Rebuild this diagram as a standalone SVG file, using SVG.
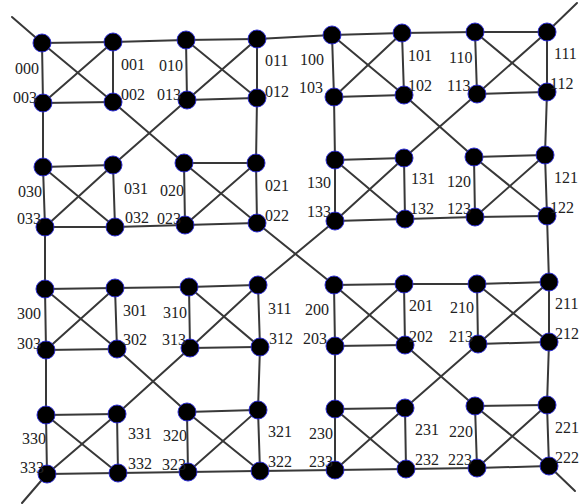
<svg xmlns="http://www.w3.org/2000/svg" width="584" height="504" viewBox="0 0 584 504">
<style>
.e line{stroke:#383838;stroke-width:2;stroke-linecap:round}
.n circle{fill:#000;stroke:#2b2bd0;stroke-width:1}
text{font-family:"Liberation Serif","Times New Roman",serif;font-size:16px;fill:#222}
</style>
<rect width="584" height="504" fill="#fff"/>
<g id="connectors" class="e">
<line x1="42" y1="43" x2="113" y2="42"/><line x1="113" y1="42" x2="113" y2="102"/><line x1="113" y1="102" x2="43" y2="103"/><line x1="43" y1="103" x2="42" y2="43"/><line x1="42" y1="43" x2="113" y2="102"/><line x1="113" y1="42" x2="43" y2="103"/>
<line x1="186" y1="40" x2="257" y2="39"/><line x1="257" y1="39" x2="257" y2="98"/><line x1="257" y1="98" x2="187" y2="100"/><line x1="187" y1="100" x2="186" y2="40"/><line x1="186" y1="40" x2="257" y2="98"/><line x1="257" y1="39" x2="187" y2="100"/>
<line x1="43" y1="167" x2="113" y2="165"/><line x1="113" y1="165" x2="115" y2="227"/><line x1="115" y1="227" x2="45" y2="227"/><line x1="45" y1="227" x2="43" y2="167"/><line x1="43" y1="167" x2="115" y2="227"/><line x1="113" y1="165" x2="45" y2="227"/>
<line x1="184" y1="163" x2="256" y2="163"/><line x1="256" y1="163" x2="257" y2="223"/><line x1="257" y1="223" x2="185" y2="225"/><line x1="185" y1="225" x2="184" y2="163"/><line x1="184" y1="163" x2="257" y2="223"/><line x1="256" y1="163" x2="185" y2="225"/>
<line x1="113" y1="42" x2="186" y2="40"/><line x1="257" y1="98" x2="256" y2="163"/><line x1="43" y1="103" x2="43" y2="167"/><line x1="115" y1="227" x2="185" y2="225"/><line x1="113" y1="102" x2="184" y2="163"/><line x1="187" y1="100" x2="113" y2="165"/>
<line x1="332" y1="35" x2="402" y2="33"/><line x1="402" y1="33" x2="404" y2="95"/><line x1="404" y1="95" x2="334" y2="97"/><line x1="334" y1="97" x2="332" y2="35"/><line x1="332" y1="35" x2="404" y2="95"/><line x1="402" y1="33" x2="334" y2="97"/>
<line x1="475" y1="32" x2="547" y2="32"/><line x1="547" y1="32" x2="547" y2="92"/><line x1="547" y1="92" x2="477" y2="94"/><line x1="477" y1="94" x2="475" y2="32"/><line x1="475" y1="32" x2="547" y2="92"/><line x1="547" y1="32" x2="477" y2="94"/>
<line x1="335" y1="160" x2="404" y2="158"/><line x1="404" y1="158" x2="405" y2="219"/><line x1="405" y1="219" x2="335" y2="221"/><line x1="335" y1="221" x2="335" y2="160"/><line x1="335" y1="160" x2="405" y2="219"/><line x1="404" y1="158" x2="335" y2="221"/>
<line x1="474" y1="157" x2="545" y2="155"/><line x1="545" y1="155" x2="547" y2="216"/><line x1="547" y1="216" x2="475" y2="217"/><line x1="475" y1="217" x2="474" y2="157"/><line x1="474" y1="157" x2="547" y2="216"/><line x1="545" y1="155" x2="475" y2="217"/>
<line x1="402" y1="33" x2="475" y2="32"/><line x1="547" y1="92" x2="545" y2="155"/><line x1="334" y1="97" x2="335" y2="160"/><line x1="405" y1="219" x2="475" y2="217"/><line x1="404" y1="95" x2="474" y2="157"/><line x1="477" y1="94" x2="404" y2="158"/>
<line x1="45" y1="289" x2="115" y2="288"/><line x1="115" y1="288" x2="117" y2="349"/><line x1="117" y1="349" x2="46" y2="350"/><line x1="46" y1="350" x2="45" y2="289"/><line x1="45" y1="289" x2="117" y2="349"/><line x1="115" y1="288" x2="46" y2="350"/>
<line x1="189" y1="287" x2="258" y2="285"/><line x1="258" y1="285" x2="260" y2="347"/><line x1="260" y1="347" x2="190" y2="348"/><line x1="190" y1="348" x2="189" y2="287"/><line x1="189" y1="287" x2="260" y2="347"/><line x1="258" y1="285" x2="190" y2="348"/>
<line x1="46" y1="415" x2="117" y2="414"/><line x1="117" y1="414" x2="118" y2="473"/><line x1="118" y1="473" x2="47" y2="474"/><line x1="47" y1="474" x2="46" y2="415"/><line x1="46" y1="415" x2="118" y2="473"/><line x1="117" y1="414" x2="47" y2="474"/>
<line x1="187" y1="412" x2="258" y2="410"/><line x1="258" y1="410" x2="260" y2="471"/><line x1="260" y1="471" x2="188" y2="472"/><line x1="188" y1="472" x2="187" y2="412"/><line x1="187" y1="412" x2="260" y2="471"/><line x1="258" y1="410" x2="188" y2="472"/>
<line x1="115" y1="288" x2="189" y2="287"/><line x1="260" y1="347" x2="258" y2="410"/><line x1="46" y1="350" x2="46" y2="415"/><line x1="118" y1="473" x2="188" y2="472"/><line x1="117" y1="349" x2="187" y2="412"/><line x1="190" y1="348" x2="117" y2="414"/>
<line x1="334" y1="285" x2="404" y2="284"/><line x1="404" y1="284" x2="405" y2="345"/><line x1="405" y1="345" x2="335" y2="346"/><line x1="335" y1="346" x2="334" y2="285"/><line x1="334" y1="285" x2="405" y2="345"/><line x1="404" y1="284" x2="335" y2="346"/>
<line x1="477" y1="284" x2="549" y2="282"/><line x1="549" y1="282" x2="549" y2="342"/><line x1="549" y1="342" x2="478" y2="344"/><line x1="478" y1="344" x2="477" y2="284"/><line x1="477" y1="284" x2="549" y2="342"/><line x1="549" y1="282" x2="478" y2="344"/>
<line x1="335" y1="409" x2="405" y2="408"/><line x1="405" y1="408" x2="406" y2="469"/><line x1="406" y1="469" x2="335" y2="470"/><line x1="335" y1="470" x2="335" y2="409"/><line x1="335" y1="409" x2="406" y2="469"/><line x1="405" y1="408" x2="335" y2="470"/>
<line x1="475" y1="406" x2="547" y2="405"/><line x1="547" y1="405" x2="549" y2="466"/><line x1="549" y1="466" x2="477" y2="468"/><line x1="477" y1="468" x2="475" y2="406"/><line x1="475" y1="406" x2="549" y2="466"/><line x1="547" y1="405" x2="477" y2="468"/>
<line x1="404" y1="284" x2="477" y2="284"/><line x1="549" y1="342" x2="547" y2="405"/><line x1="335" y1="346" x2="335" y2="409"/><line x1="406" y1="469" x2="477" y2="468"/><line x1="405" y1="345" x2="475" y2="406"/><line x1="478" y1="344" x2="405" y2="408"/>
<line x1="257" y1="39" x2="332" y2="35"/><line x1="547" y1="216" x2="549" y2="282"/><line x1="45" y1="227" x2="45" y2="289"/><line x1="260" y1="471" x2="335" y2="470"/><line x1="257" y1="223" x2="334" y2="285"/><line x1="335" y1="221" x2="258" y2="285"/>
<line x1="42" y1="43" x2="12" y2="17"/><line x1="547" y1="32" x2="577" y2="3"/><line x1="47" y1="474" x2="22" y2="503"/><line x1="549" y1="466" x2="575" y2="491"/>
</g>
<g id="nodes" class="n">
<g id="n000"><circle cx="42" cy="43" r="9"/><text x="15" y="74">000</text></g>
<g id="n001"><circle cx="113" cy="42" r="9"/><text x="121" y="70">001</text></g>
<g id="n002"><circle cx="113" cy="102" r="9"/><text x="121" y="100">002</text></g>
<g id="n003"><circle cx="43" cy="103" r="9"/><text x="13" y="103">003</text></g>
<g id="n010"><circle cx="186" cy="40" r="9"/><text x="159" y="71">010</text></g>
<g id="n011"><circle cx="257" cy="39" r="9"/><text x="265" y="66">011</text></g>
<g id="n012"><circle cx="257" cy="98" r="9"/><text x="265" y="97">012</text></g>
<g id="n013"><circle cx="187" cy="100" r="9"/><text x="157" y="100">013</text></g>
<g id="n030"><circle cx="43" cy="167" r="9"/><text x="18" y="197">030</text></g>
<g id="n031"><circle cx="113" cy="165" r="9"/><text x="124" y="194">031</text></g>
<g id="n032"><circle cx="115" cy="227" r="9"/><text x="125" y="223">032</text></g>
<g id="n033"><circle cx="45" cy="227" r="9"/><text x="17" y="224">033</text></g>
<g id="n020"><circle cx="184" cy="163" r="9"/><text x="160" y="196">020</text></g>
<g id="n021"><circle cx="256" cy="163" r="9"/><text x="265" y="191">021</text></g>
<g id="n022"><circle cx="257" cy="223" r="9"/><text x="265" y="221">022</text></g>
<g id="n023"><circle cx="185" cy="225" r="9"/><text x="157" y="224">023</text></g>
<g id="n100"><circle cx="332" cy="35" r="9"/><text x="300" y="65">100</text></g>
<g id="n101"><circle cx="402" cy="33" r="9"/><text x="408" y="61">101</text></g>
<g id="n102"><circle cx="404" cy="95" r="9"/><text x="408" y="91">102</text></g>
<g id="n103"><circle cx="334" cy="97" r="9"/><text x="299" y="93">103</text></g>
<g id="n110"><circle cx="475" cy="32" r="9"/><text x="449" y="63">110</text></g>
<g id="n111"><circle cx="547" cy="32" r="9"/><text x="554" y="59">111</text></g>
<g id="n112"><circle cx="547" cy="92" r="9"/><text x="550" y="89">112</text></g>
<g id="n113"><circle cx="477" cy="94" r="9"/><text x="447" y="91">113</text></g>
<g id="n130"><circle cx="335" cy="160" r="9"/><text x="307" y="188">130</text></g>
<g id="n131"><circle cx="404" cy="158" r="9"/><text x="411" y="184">131</text></g>
<g id="n132"><circle cx="405" cy="219" r="9"/><text x="410" y="214">132</text></g>
<g id="n133"><circle cx="335" cy="221" r="9"/><text x="307" y="217">133</text></g>
<g id="n120"><circle cx="474" cy="157" r="9"/><text x="447" y="187">120</text></g>
<g id="n121"><circle cx="545" cy="155" r="9"/><text x="554" y="183">121</text></g>
<g id="n122"><circle cx="547" cy="216" r="9"/><text x="550" y="213">122</text></g>
<g id="n123"><circle cx="475" cy="217" r="9"/><text x="447" y="214">123</text></g>
<g id="n300"><circle cx="45" cy="289" r="9"/><text x="17" y="319">300</text></g>
<g id="n301"><circle cx="115" cy="288" r="9"/><text x="123" y="316">301</text></g>
<g id="n302"><circle cx="117" cy="349" r="9"/><text x="123" y="345">302</text></g>
<g id="n303"><circle cx="46" cy="350" r="9"/><text x="17" y="349">303</text></g>
<g id="n310"><circle cx="189" cy="287" r="9"/><text x="163" y="318">310</text></g>
<g id="n311"><circle cx="258" cy="285" r="9"/><text x="268" y="314">311</text></g>
<g id="n312"><circle cx="260" cy="347" r="9"/><text x="269" y="344">312</text></g>
<g id="n313"><circle cx="190" cy="348" r="9"/><text x="162" y="345">313</text></g>
<g id="n330"><circle cx="46" cy="415" r="9"/><text x="22" y="444">330</text></g>
<g id="n331"><circle cx="117" cy="414" r="9"/><text x="128" y="439">331</text></g>
<g id="n332"><circle cx="118" cy="473" r="9"/><text x="128" y="469">332</text></g>
<g id="n333"><circle cx="47" cy="474" r="9"/><text x="20" y="473">333</text></g>
<g id="n320"><circle cx="187" cy="412" r="9"/><text x="163" y="441">320</text></g>
<g id="n321"><circle cx="258" cy="410" r="9"/><text x="268" y="437">321</text></g>
<g id="n322"><circle cx="260" cy="471" r="9"/><text x="268" y="467">322</text></g>
<g id="n323"><circle cx="188" cy="472" r="9"/><text x="162" y="470">323</text></g>
<g id="n200"><circle cx="334" cy="285" r="9"/><text x="305" y="315">200</text></g>
<g id="n201"><circle cx="404" cy="284" r="9"/><text x="409" y="311">201</text></g>
<g id="n202"><circle cx="405" cy="345" r="9"/><text x="409" y="342">202</text></g>
<g id="n203"><circle cx="335" cy="346" r="9"/><text x="303" y="344">203</text></g>
<g id="n210"><circle cx="477" cy="284" r="9"/><text x="450" y="313">210</text></g>
<g id="n211"><circle cx="549" cy="282" r="9"/><text x="555" y="309">211</text></g>
<g id="n212"><circle cx="549" cy="342" r="9"/><text x="555" y="339">212</text></g>
<g id="n213"><circle cx="478" cy="344" r="9"/><text x="449" y="342">213</text></g>
<g id="n230"><circle cx="335" cy="409" r="9"/><text x="309" y="439">230</text></g>
<g id="n231"><circle cx="405" cy="408" r="9"/><text x="415" y="435">231</text></g>
<g id="n232"><circle cx="406" cy="469" r="9"/><text x="415" y="465">232</text></g>
<g id="n233"><circle cx="335" cy="470" r="9"/><text x="309" y="467">233</text></g>
<g id="n220"><circle cx="475" cy="406" r="9"/><text x="449" y="437">220</text></g>
<g id="n221"><circle cx="547" cy="405" r="9"/><text x="555" y="433">221</text></g>
<g id="n222"><circle cx="549" cy="466" r="9"/><text x="555" y="463">222</text></g>
<g id="n223"><circle cx="477" cy="468" r="9"/><text x="448" y="465">223</text></g>
</g>
</svg>
